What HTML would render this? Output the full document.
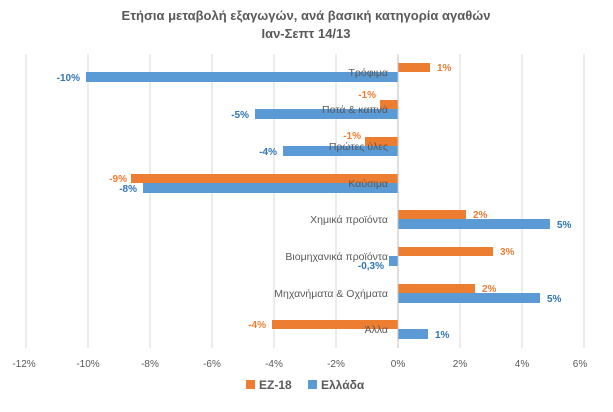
<!DOCTYPE html>
<html><head><meta charset="utf-8"><style>
body{margin:0;background:#fff;}
svg{display:block;font-family:"Liberation Sans",sans-serif;}
</style></head><body>
<svg width="613" height="412" viewBox="0 0 613 412">
<rect width="613" height="412" fill="#fff"/>
<text x="306" y="20" text-anchor="middle" font-size="13" font-weight="bold" fill="#595959">Ετήσια μεταβολή εξαγωγών, ανά βασική κατηγορία αγαθών</text>
<text x="306" y="38" text-anchor="middle" font-size="13" font-weight="bold" fill="#595959">Ιαν-Σεπτ 14/13</text>
<g stroke="#d9d9d9" stroke-width="1">
<line x1="26" y1="54" x2="26" y2="348"/><line x1="88" y1="54" x2="88" y2="348"/><line x1="150" y1="54" x2="150" y2="348"/><line x1="212" y1="54" x2="212" y2="348"/><line x1="274" y1="54" x2="274" y2="348"/><line x1="336" y1="54" x2="336" y2="348"/><line x1="460" y1="54" x2="460" y2="348"/><line x1="522" y1="54" x2="522" y2="348"/><line x1="584" y1="54" x2="584" y2="348"/>
</g>
<g font-size="10" fill="#595959" text-anchor="middle">
<text x="24" y="367">-12%</text><text x="88" y="367">-10%</text><text x="150" y="367">-8%</text><text x="212" y="367">-6%</text><text x="274" y="367">-4%</text><text x="336" y="367">-2%</text><text x="398" y="367">0%</text><text x="460" y="367">2%</text><text x="522" y="367">4%</text><text x="580" y="367">6%</text>
</g>
<g fill="#ED7D31">
<rect x="398" y="63" width="32" height="9"/>
<rect x="380" y="100" width="18" height="9"/>
<rect x="365" y="137" width="33" height="9"/>
<rect x="131" y="174" width="267" height="9"/>
<rect x="398" y="210" width="68" height="9"/>
<rect x="398" y="247" width="95" height="9"/>
<rect x="398" y="284" width="77" height="9"/>
<rect x="272" y="320" width="126" height="9"/>
</g>
<g fill="#5B9BD5">
<rect x="86" y="72" width="312" height="10"/>
<rect x="255" y="109" width="143" height="10"/>
<rect x="283" y="146" width="115" height="10"/>
<rect x="143" y="183" width="255" height="10"/>
<rect x="398" y="219" width="152" height="10"/>
<rect x="389" y="256" width="9" height="10"/>
<rect x="398" y="293" width="142" height="10"/>
<rect x="398" y="329" width="30" height="10"/>
</g>
<line x1="398" y1="54" x2="398" y2="348" stroke="#bfbfbf"/>
<g font-size="10.5" fill="#595959" text-anchor="end">
<text x="388" y="76">Τρόφιμα</text>
<text x="388" y="113">Ποτά &amp; καπνά</text>
<text x="388" y="150">Πρώτες ύλες</text>
<text x="388" y="187">Καύσιμα</text>
<text x="388" y="223">Χημικά προϊόντα</text>
<text x="388" y="260">Βιομηχανικά προϊόντα</text>
<text x="388" y="297">Μηχανήματα &amp; Οχήματα</text>
<text x="388" y="333">Άλλα</text>
</g>
<g font-size="10" font-weight="bold" fill="#ED7D31">
<text x="437" y="71">1%</text>
<text x="376" y="98" text-anchor="end">-1%</text>
<text x="361" y="139" text-anchor="end">-1%</text>
<text x="127" y="182" text-anchor="end">-9%</text>
<text x="473" y="218">2%</text>
<text x="500" y="255">3%</text>
<text x="482" y="292">2%</text>
<text x="266" y="328" text-anchor="end">-4%</text>
</g>
<g font-size="10" font-weight="bold" fill="#2E75B6">
<text x="80" y="81" text-anchor="end">-10%</text>
<text x="249" y="118" text-anchor="end">-5%</text>
<text x="277" y="155" text-anchor="end">-4%</text>
<text x="137" y="192" text-anchor="end">-8%</text>
<text x="557" y="228">5%</text>
<text x="384" y="269" text-anchor="end">-0,3%</text>
<text x="547" y="302">5%</text>
<text x="435" y="338">1%</text>
</g>
<rect x="246" y="380" width="9" height="9" fill="#ED7D31"/>
<text x="259" y="389" font-size="12" font-weight="bold" fill="#595959">ΕΖ-18</text>
<rect x="308" y="380" width="9" height="9" fill="#5B9BD5"/>
<text x="321" y="389" font-size="12" font-weight="bold" fill="#595959">Ελλάδα</text>
</svg>
</body></html>
